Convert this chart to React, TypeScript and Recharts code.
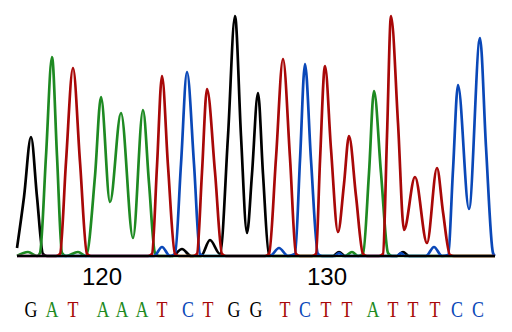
import { LineChart, Line, XAxis, YAxis } from "recharts";

// trace x values are scan numbers, y values are signal
const SCAN_MIN = 0;
const SCAN_MAX = 478;
const SIGNAL_MAX = 245;

const TICK_SCANS = [85, 310];
const TICK_LABELS = ["120", "130"];

const BASE_CALLS = [
  "G", "A", "T", "A", "A", "A", "T", "C", "T", "G", "G",
  "T", "C", "T", "T", "A", "T", "T", "T", "C", "C",
];
const BASE_SCANS = [
  14, 35, 56, 86, 105, 125, 145, 171, 191, 217, 239,
  268, 288, 309, 330, 356, 376, 396, 418, 440, 461,
];

const TRACE_G: [number, number][] = [
  [0, 8], [7, 59], [14, 119], [20, 59], [26, 2], [30, 0],
  [155, 0], [165, 7], [174, 0], [184, 0], [193, 16], [203, 2],
  [211, 120], [218, 240], [224, 120], [230, 23], [235, 82], [241, 163],
  [246, 82], [252, 1], [256, 0], [316, 0], [322, 4], [328, 0],
  [380, 0], [386, 4], [392, 0], [478, 0],
];

const TRACE_A: [number, number][] = [
  [0, 0], [11, 4], [20, 0], [23, 3], [29, 100], [35, 199], [40, 100],
  [45, 3], [49, 0], [61, 4], [69, 0], [78, 80], [84, 159], [93, 54],
  [104, 143], [116, 18], [126, 146], [132, 73], [138, 3], [142, 0],
  [328, 0], [335, 4], [341, 0], [346, 2], [352, 83], [357, 165],
  [364, 83], [371, 3], [375, 0], [478, 0],
];

const TRACE_C: [number, number][] = [
  [0, 0], [137, 0], [145, 9], [153, 0], [158, 2], [164, 92], [170, 184],
  [177, 92], [183, 2], [187, 0], [253, 0], [262, 8], [271, 0], [278, 2],
  [283, 96], [288, 192], [294, 96], [301, 2], [305, 0], [318, 0],
  [322, 3], [326, 0], [380, 0], [384, 3], [388, 0], [409, 0], [417, 9],
  [425, 0], [431, 1], [436, 86], [441, 171], [452, 47], [463, 218],
  [469, 109], [476, 3], [478, 0],
];

const TRACE_T: [number, number][] = [
  [0, 0], [39, 0], [43, 2], [49, 94], [56, 188], [63, 94], [70, 2],
  [74, 0], [131, 0], [135, 2], [140, 90], [145, 180], [151, 90],
  [158, 2], [162, 0], [176, 0], [180, 2], [185, 84], [190, 167],
  [198, 84], [205, 2], [209, 0], [248, 0], [252, 2], [259, 98],
  [266, 197], [273, 98], [279, 2], [283, 0], [295, 0], [299, 2],
  [303, 95], [308, 190], [314, 107], [321, 24], [327, 72], [332, 120],
  [339, 60], [346, 2], [350, 0], [362, 0], [366, 2], [370, 120],
  [374, 240], [381, 133], [387, 26], [398, 79], [410, 13], [420, 88],
  [426, 44], [433, 1], [437, 0], [478, 0],
];

const COLORS: Record<string, string> = {
  G: "#000000",
  A: "#1e8a22",
  T: "#a80808",
  C: "#0a48b8",
};

const ALL_TICKS = [...TICK_SCANS, ...BASE_SCANS].sort((a, b) => a - b);

const toPoints = (trace: [number, number][]) =>
  trace.map(([scan, signal]) => ({ scan, signal }));

// one axis carries both the position numbers and the called bases below them
const ScanTick = (props: any) => {
  const { x, y, payload } = props;
  const posIdx = TICK_SCANS.indexOf(payload.value);
  if (posIdx >= 0) {
    return (
      <text
        x={x}
        y={y + 29}
        textAnchor="middle"
        fill="#000"
        fontSize={24}
        fontFamily="'Liberation Sans', Arial, sans-serif"
      >
        {TICK_LABELS[posIdx]}
      </text>
    );
  }
  const base = BASE_CALLS[BASE_SCANS.indexOf(payload.value)];
  return (
    <g transform={`translate(${x},${y + 61}) scale(0.78,1)`}>
      <text
        x={0}
        y={0}
        textAnchor="middle"
        fill={COLORS[base]}
        fontSize={23}
        fontFamily="'Liberation Serif', 'Times New Roman', serif"
      >
        {base}
      </text>
    </g>
  );
};

const traces: { key: string; trace: [number, number][] }[] = [
  { key: "G", trace: TRACE_G },
  { key: "A", trace: TRACE_A },
  { key: "C", trace: TRACE_C },
  { key: "T", trace: TRACE_T },
];

export default function App() {
  return (
    <div style={{ position: "absolute", left: 0, top: 0, background: "#fff" }}>
      <LineChart
        width={512}
        height={332}
        margin={{ top: 11, right: 17, bottom: 0, left: 17 }}
      >
        <XAxis
          dataKey="scan"
          type="number"
          domain={[SCAN_MIN, SCAN_MAX]}
          ticks={ALL_TICKS}
          interval={0}
          height={76}
          tickSize={0}
          tickMargin={0}
          tickLine={false}
          axisLine={{ stroke: "#000", strokeWidth: 2 }}
          tick={<ScanTick />}
        />
        <YAxis hide domain={[0, SIGNAL_MAX]} />
        {traces.map((t) => (
          <Line
            key={t.key}
            data={toPoints(t.trace)}
            dataKey="signal"
            type="monotone"
            stroke={COLORS[t.key]}
            strokeWidth={2.7}
            dot={false}
            activeDot={false}
            isAnimationActive={false}
          />
        ))}
      </LineChart>
    </div>
  );
}
